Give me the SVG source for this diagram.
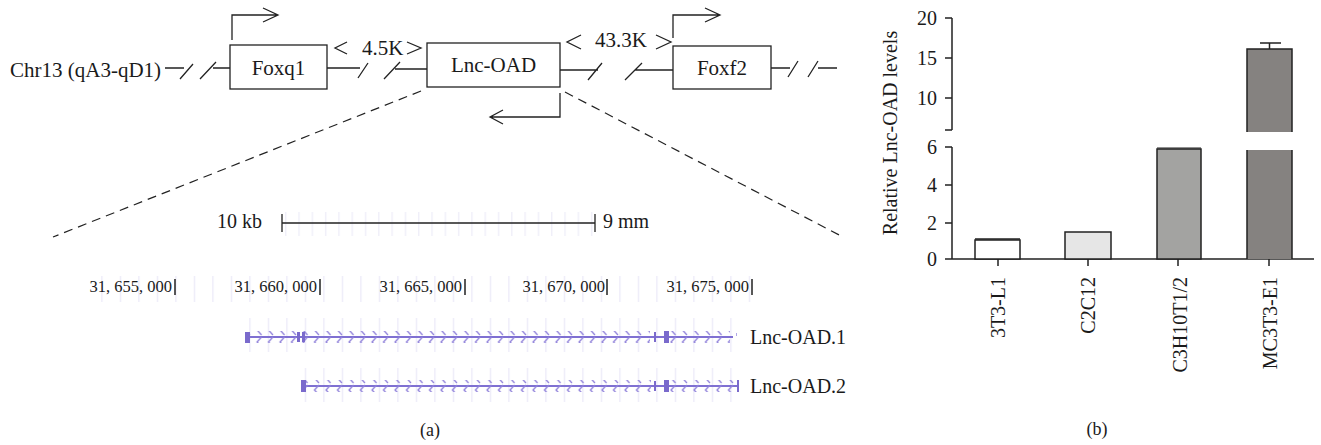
<svg xmlns="http://www.w3.org/2000/svg" width="1321" height="445" viewBox="0 0 1321 445">
<style>
text{font-family:"Liberation Serif","Times New Roman",serif;fill:#1a1a1a}
.t20{font-size:20px}
.t21{font-size:21px}
.t16{font-size:16.5px}
.t18{font-size:18px}
.ln{fill:none;stroke:#222;stroke-width:1.3}
.box{fill:#fff;stroke:#222;stroke-width:1.3}
.dash{fill:none;stroke:#222;stroke-width:1.2;stroke-dasharray:9 6}
.ax{fill:none;stroke:#222;stroke-width:1.5}
.bar{stroke:#222;stroke-width:1.5}
.tr{stroke:#7f70d2;stroke-width:2;fill:none}
.ex{fill:#7a6acc}
</style>
<defs>
<pattern id="grid18" x="0" y="0" width="18.5" height="10" patternUnits="userSpaceOnUse">
<rect x="9" y="0" width="1" height="10" fill="#e6e4f6"/>
</pattern>
<pattern id="grid13" x="0" y="0" width="13.3" height="10" patternUnits="userSpaceOnUse">
<rect x="6" y="0" width="1" height="10" fill="#e9e8f7"/>
</pattern>
<pattern id="chev" x="0" y="0" width="11.5" height="12" patternUnits="userSpaceOnUse">
<path d="M8.5,1 L4,6 L8.5,11" fill="none" stroke="#8f81da" stroke-width="1.3"/>
</pattern>
</defs>

<g id="chromosome">
<text class="t21" x="10" y="77">Chr13 (qA3-qD1)</text>
</g>

<g id="connectors">
<path class="ln" d="M165,68 H184 M180,79 L193,64 M200,79 L216,62 M213,68 H230"/>
<path class="ln" d="M327,68 H360 M358,78 L368,63 M384,79 L400,62 M395,69 H427"/>
<path class="ln" d="M560,70 H598 M588,80 L602,63 M625,80 L642,63 M635,70 H673"/>
<path class="ln" d="M771,68 H790 M788,77 L798,61 M808,77 L818,61 M818,68 H837"/>
<path class="ln" d="M232,40 V15 H278 M263,8 L278,15 L263,22"/>
<path class="ln" d="M673,38 V15 H720 M705,8 L720,15 L705,22"/>
<path class="ln" d="M560,93 V117 H490 M503,110 L490,117 L503,124"/>
<path class="ln" d="M347,42 L335,48 L347,54 M407,42 L421,48 L407,54"/>
<path class="ln" d="M581,35 L567,42 L581,49 M656,35 L671,42 L656,49"/>
<path class="dash" d="M421,91 L53,237"/>
<path class="dash" d="M565,92 L843,237"/>
</g>

<g id="foxq1">
<rect class="box" x="230" y="45" width="97" height="44"/>
<text class="t21" x="278.5" y="75" text-anchor="middle">Foxq1</text>
</g>
<g id="lnc-oad">
<rect class="box" x="427" y="43" width="133" height="44"/>
<text class="t21" x="493.5" y="72" text-anchor="middle">Lnc-OAD</text>
</g>
<g id="foxf2">
<rect class="box" x="673" y="46" width="98" height="43"/>
<text class="t21" x="722" y="75" text-anchor="middle">Foxf2</text>
</g>
<g id="dist-4-5k"><text class="t21" x="362" y="55">4.5K</text></g>
<g id="dist-43-3k"><text class="t21" x="595" y="47">43.3K</text></g>

<g id="scale">
<rect x="285" y="212" width="310" height="24" fill="url(#grid13)"/>
<text class="t20" x="217" y="228">10 kb</text>
<path class="ln" d="M282,214 V232 M282,223 H595 M595,214 V232"/>
<text class="t20" x="603" y="228">9 mm</text>
</g>

<g id="coords">
<rect x="85" y="276" width="670" height="26" fill="url(#grid18)"/>
<text class="t16" x="172" y="292" text-anchor="end">31, 655, 000</text>
<text class="t16" x="317" y="292" text-anchor="end">31, 660, 000</text>
<text class="t16" x="462" y="292" text-anchor="end">31, 665, 000</text>
<text class="t16" x="605" y="292" text-anchor="end">31, 670, 000</text>
<text class="t16" x="749" y="292" text-anchor="end">31, 675, 000</text>
<path d="M175,279 V295 M320,279 V295 M465,279 V295 M607,279 V295 M752,279 V295" stroke="#222" stroke-width="1.5"/>
</g>

<g id="lnc-oad-1">
<rect x="240" y="318" width="500" height="34" fill="url(#grid18)"/>
<line class="tr" x1="247" y1="337" x2="733" y2="337"/>
<rect x="250" y="331" width="400" height="12" fill="url(#chev)"/>
<rect x="670" y="331" width="60" height="12" fill="url(#chev)"/>
<rect class="ex" x="245" y="332" width="5" height="11"/>
<rect class="ex" x="297" y="332" width="3" height="10"/>
<rect class="ex" x="302" y="332" width="3" height="10"/>
<rect class="ex" x="654" y="332" width="2" height="10"/>
<rect class="ex" x="664" y="331" width="5" height="12"/>
<rect x="736" y="333" width="1" height="3" fill="#b0a6e6"/>
<text class="t20" x="750" y="344">Lnc-OAD.1</text>
</g>

<g id="lnc-oad-2">
<rect x="298" y="368" width="442" height="34" fill="url(#grid18)"/>
<line class="tr" x1="302" y1="386" x2="738" y2="386"/>
<rect x="306" y="380" width="345" height="12" fill="url(#chev)"/>
<rect x="670" y="380" width="64" height="12" fill="url(#chev)"/>
<rect class="ex" x="301" y="380" width="5" height="12"/>
<rect class="ex" x="654" y="381" width="2" height="10"/>
<rect class="ex" x="664" y="380" width="5" height="12"/>
<rect class="ex" x="737" y="380" width="2" height="12"/>
<text class="t20" x="750" y="393">Lnc-OAD.2</text>
</g>

<g id="label-a"><text class="t18" x="430" y="436" text-anchor="middle">(a)</text></g>

<g id="chart">
<path class="ax" d="M952,18 V130 M945,18 H952 M945,58 H952 M945,98 H952 M945,130 H952"/>
<path class="ax" d="M952,147 V259 M945,147 H952 M945,185 H952 M945,223 H952 M945,259 H1314"/>
<path class="ax" d="M998,259 V266 M1088,259 V266 M1178,259 V266 M1269,259 V266"/>
<text class="t20" x="937" y="25" text-anchor="end">20</text>
<text class="t20" x="937" y="65" text-anchor="end">15</text>
<text class="t20" x="937" y="105" text-anchor="end">10</text>
<text class="t20" x="937" y="154" text-anchor="end">6</text>
<text class="t20" x="937" y="192" text-anchor="end">4</text>
<text class="t20" x="937" y="230" text-anchor="end">2</text>
<text class="t20" x="937" y="266" text-anchor="end">0</text>
<text class="t20" transform="translate(897,133) rotate(-90)" text-anchor="middle">Relative Lnc-OAD levels</text>
<rect class="bar" x="975" y="240" width="45" height="19" fill="#ffffff"/>
<line x1="975" y1="239" x2="1020" y2="239" stroke="#222" stroke-width="1.5"/>
<rect class="bar" x="1065" y="232" width="46" height="27" fill="#e6e6e6"/>
<rect class="bar" x="1157" y="149" width="44" height="110" fill="#a3a3a1"/>
<line x1="1157" y1="148" x2="1201" y2="148" stroke="#222" stroke-width="1.2"/>
<rect x="1247" y="150" width="45" height="109" fill="#858280"/>
<rect x="1247" y="49" width="45" height="83" fill="#858280"/>
<path class="ax" d="M1247,259 V150 M1292,259 V150 M1247,132 V49 H1292 V132 M1269.5,49 V43 M1260,43 H1281"/>
<text class="t20" transform="translate(1005,277) rotate(-90)" text-anchor="end">3T3-L1</text>
<text class="t20" transform="translate(1095,277) rotate(-90)" text-anchor="end">C2C12</text>
<text class="t20" transform="translate(1187,277) rotate(-90)" text-anchor="end">C3H10T1/2</text>
<text class="t20" transform="translate(1277,277) rotate(-90)" text-anchor="end">MC3T3-E1</text>
</g>
<g id="label-b"><text class="t18" x="1097" y="435" text-anchor="middle">(b)</text></g>
</svg>
